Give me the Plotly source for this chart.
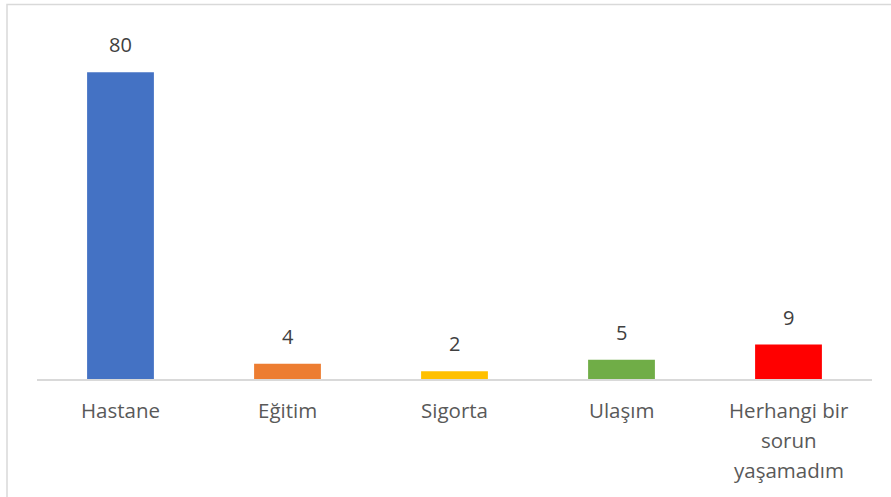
import plotly.graph_objects as go

categories = ["Hastane", "Eğitim", "Sigorta", "Ulaşım", "Herhangi bir sorun yaşamadım"]
label_lines = [["Hastane"], ["Eğitim"], ["Sigorta"], ["Ulaşım"], ["Herhangi bir", "sorun", "yaşamadım"]]
values = [80, 4, 2, 5, 9]
colors = ["#4472C4", "#ED7D31", "#FFC000", "#70AD47", "#FF0000"]

FONT = "Open Sans"
W, H = 891, 497
ml, mr, mt, mb = 37, 19, 34, 118
pw, ph = W - ml - mr, H - mt - mb

fig = go.Figure()
fig.add_trace(go.Bar(
    x=categories, y=values, marker=dict(color=colors, line=dict(width=0)),
    width=0.4, hoverinfo="skip",
))

ann = []
for c, v in zip(categories, values):
    ann.append(dict(x=c, y=v, xref="x", yref="y", text=str(v), showarrow=False,
                    yanchor="bottom", yshift=12,
                    font=dict(family=FONT, size=20, color="#404040")))
for c, lines in zip(categories, label_lines):
    for j, line in enumerate(lines):
        ann.append(dict(x=c, y=0, xref="x", yref="paper", text=line, showarrow=False,
                        yanchor="middle", yshift=-(31 + 30 * j),
                        font=dict(family=FONT, size=20.5, color="#595959")))

fig.update_layout(
    width=W, height=H,
    margin=dict(l=ml, r=mr, t=mt, b=mb),
    paper_bgcolor="white", plot_bgcolor="white",
    showlegend=False, bargap=0.6,
    xaxis=dict(showticklabels=False, showgrid=False, zeroline=False,
               showline=True, linecolor="#D9D9D9", linewidth=1.5, ticks=""),
    yaxis=dict(range=[0, 90], visible=False, showgrid=False, zeroline=False),
    annotations=ann,
    shapes=[dict(type="rect", xref="paper", yref="paper",
                 x0=(7 - ml) / pw, x1=(W + 10 - ml) / pw,
                 y0=(mt + ph - (H + 10)) / ph, y1=(mt + ph - 4.5) / ph,
                 line=dict(color="#D9D9D9", width=1.5), fillcolor="rgba(0,0,0,0)",
                 layer="below")],
)

fig.write_html("out.html", config={"displayModeBar": False},
               post_script="document.body.style.margin='0';document.body.style.overflow='hidden';")
